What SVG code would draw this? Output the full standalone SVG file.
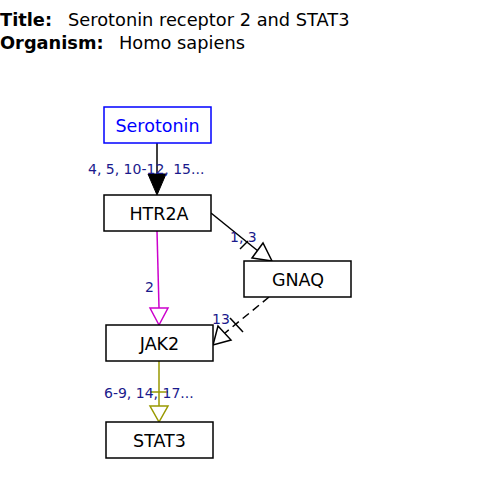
<svg xmlns="http://www.w3.org/2000/svg" width="480" height="483" viewBox="0 0 480 483">
<style>
text{font-family:"DejaVu Sans",Verdana,sans-serif}
.hdr{font-size:17.8px;fill:#000}
.b{font-weight:bold}
.node rect{fill:#fff;stroke:#000;stroke-width:1.5}
.node text{font-size:17.5px;fill:#000;text-anchor:middle}
.lbl{font-size:14px;fill:#1a1a8c}
.edge{fill:none;stroke-width:1.5}
.open{fill:#fff;stroke-width:1.5}
</style>
<rect width="480" height="483" fill="#fff"/>
<text class="hdr b" x="0" y="26">Title:</text>
<text class="hdr" x="68" y="26">Serotonin receptor 2 and STAT3</text>
<text class="hdr b" x="0" y="49">Organism:</text>
<text class="hdr" x="119" y="49">Homo sapiens</text>

<g id="connectors">
  <g id="e1">
    <line class="edge" x1="157" y1="143" x2="157" y2="176" stroke="#000"/>
    <polygon points="148,174 166,174 157,195" fill="#000" stroke="#000" stroke-width="1"/>
    <text class="lbl" x="88" y="174">4, 5, 10-12, 15...</text>
  </g>
  <g id="e2">
    <line class="edge" x1="211" y1="213" x2="258" y2="251" stroke="#000"/>
    <line class="edge" x1="240" y1="249" x2="248" y2="241" stroke="#000"/>
    <polygon class="open" points="252,258 263,243 272,261" stroke="#000"/>
    <text class="lbl" x="230" y="242">1, 3</text>
  </g>
  <g id="e3">
    <line class="edge" x1="157" y1="231" x2="159" y2="308" stroke="#cc00cc"/>
    <polygon class="open" points="150,308 168,308 159,325" stroke="#cc00cc"/>
    <text class="lbl" x="145" y="292">2</text>
  </g>
  <g id="e4">
    <line class="edge" x1="269" y1="297" x2="225" y2="333" stroke="#000" stroke-dasharray="8,5"/>
    <line class="edge" x1="230" y1="318" x2="243" y2="332" stroke="#000"/>
    <polygon class="open" points="218,326 231,340 213,345" stroke="#000"/>
    <text class="lbl" x="212" y="324">13</text>
  </g>
  <g id="e5">
    <line class="edge" x1="159" y1="361" x2="159" y2="406" stroke="#999900"/>
    <line class="edge" x1="150" y1="392" x2="168" y2="392" stroke="#999900"/>
    <polygon class="open" points="150,406 168,406 159,422" stroke="#999900"/>
    <text class="lbl" x="104" y="398">6-9, 14, 17...</text>
  </g>
</g>

<g id="Serotonin" class="node">
  <rect x="104" y="107" width="107" height="36" style="stroke:#0000ff"/>
  <text x="157.5" y="131.5" style="fill:#0000ff">Serotonin</text>
</g>
<g id="HTR2A" class="node">
  <rect x="104" y="195" width="107" height="36"/>
  <text x="159" y="219.5">HTR2A</text>
</g>
<g id="GNAQ" class="node">
  <rect x="244" y="261" width="107" height="36"/>
  <text x="298" y="285.5">GNAQ</text>
</g>
<g id="JAK2" class="node">
  <rect x="106" y="325" width="107" height="36"/>
  <text x="159.5" y="349.5">JAK2</text>
</g>
<g id="STAT3" class="node">
  <rect x="106" y="422" width="107" height="36"/>
  <text x="159.5" y="446.5">STAT3</text>
</g>
</svg>
